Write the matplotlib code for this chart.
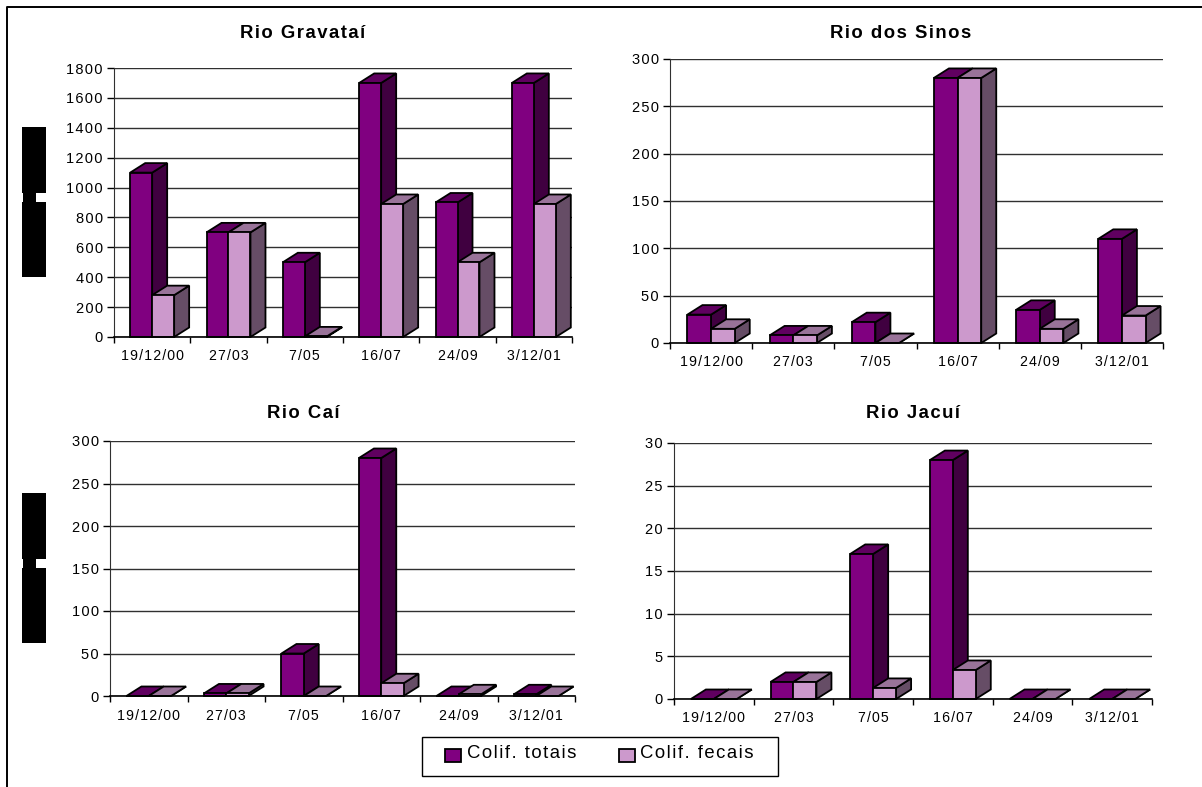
#Coliform counts for four rivers, drawn as Excel style 3D columns on plain 2D axes.
#Every column gets a front face from ax.bar, plus a side and a top polygon pushed back by a fixed pixel depth.

import matplotlib
matplotlib.use("Agg")
import matplotlib.pyplot as plt
from matplotlib.patches import Rectangle

FIG_W = 1202
FIG_H = 787
DEPTH_X = 15  # how far the column goes back, in pixels
DEPTH_Y = 9.5
BAR_WIDTH = 0.288
HAIR = '\u200a'

plt.rcParams['font.family'] = ['Liberation Sans', 'DejaVu Sans']

dates = ['19/12/00', '27/03', '7/05', '16/07', '24/09', '3/12/01']

gravatai_totais = [1100, 700, 500, 1700, 900, 1700]
gravatai_fecais = [280, 700, 4, 890, 500, 890]
gravatai_ticks = [0, 200, 400, 600, 800, 1000, 1200, 1400, 1600, 1800]

sinos_totais = [30, 8, 22, 280, 35, 110]
sinos_fecais = [15, 8, 0, 280, 15, 29]
sinos_ticks = [0, 50, 100, 150, 200, 250, 300]

cai_totais = [0, 3, 50, 280, 0, 2]
cai_fecais = [0, 3, 0, 15, 2, 0]
cai_ticks = [0, 50, 100, 150, 200, 250, 300]

jacui_totais = [0, 2, 17, 28, 0, 0]
jacui_fecais = [0, 2, 1.3, 3.4, 0, 0]
jacui_ticks = [0, 5, 10, 15, 20, 25, 30]

legend_labels = ['Colif. totais', 'Colif. fecais']

# front, top, side
COLORS_TOTAIS = ('#800080', '#600060', '#400040')
COLORS_FECAIS = ('#CC99CC', '#997399', '#664D66')


# matplotlib has no letter spacing, so put a narrow space between the characters
def spaced(text, gap=HAIR):
    return gap.join(text)


# draws one column, depth is converted from pixels to data units by the caller
def drawColumn(ax, x, height, colors, dx, dy):
    left = x - BAR_WIDTH / 2
    right = x + BAR_WIDTH / 2
    edge = dict(edgecolor='black', linewidth=1.3, joinstyle='miter', clip_on=False)
    ax.fill([right, right + dx, right + dx, right],
            [0, dy, height + dy, height], facecolor=colors[2], **edge)
    ax.fill([left, left + dx, right + dx, right],
            [height, height + dy, height + dy, height], facecolor=colors[1], **edge)
    ax.bar(x, height, BAR_WIDTH, facecolor=colors[0], **edge)


# one river panel, box is (left, top, right, bottom) in pixels
def drawPanel(fig, box, title, totais, fecais, ticks, titlePos):
    left, top, right, bottom = box
    ax = fig.add_axes([left / FIG_W, 1 - bottom / FIG_H,
                       (right - left) / FIG_W, (bottom - top) / FIG_H])
    ax.set_xlim(-0.5, 5.5)
    ax.set_ylim(ticks[0], ticks[-1])
    dx = DEPTH_X * 6 / (right - left)
    dy = DEPTH_Y * ticks[-1] / (bottom - top)

    for i in range(len(dates)):
        drawColumn(ax, i - BAR_WIDTH / 2, totais[i], COLORS_TOTAIS, dx, dy)
        drawColumn(ax, i + BAR_WIDTH / 2, fecais[i], COLORS_FECAIS, dx, dy)

    ax.set_axisbelow(True)
    ax.yaxis.grid(True, color='#303030', linewidth=1.0)
    ax.xaxis.grid(False)
    ax.spines['top'].set_visible(False)
    ax.spines['right'].set_visible(False)
    ax.spines['left'].set_color('#303030')
    ax.spines['bottom'].set_linewidth(1.2)
    ax.set_yticks(ticks, [spaced(str(t)) for t in ticks])
    ax.set_xticks([i - 0.5 for i in range(len(dates) + 1)])
    ax.set_xticklabels([])
    ax.set_xticks(range(len(dates)), [spaced(d) for d in dates], minor=True)
    ax.tick_params(axis='x', which='major', length=4.5, width=1.0)
    ax.tick_params(axis='x', which='minor', length=0, pad=9, labelsize=10.2)
    ax.tick_params(axis='y', length=5, width=1.0, pad=3, labelsize=10.5)
    fig.text(titlePos[0] / FIG_W, 1 - titlePos[1] / FIG_H, spaced(title),
             fontsize=13.3, fontweight='bold', ha='center', va='center')


fig = plt.figure(figsize=(FIG_W / 100, FIG_H / 100), dpi=100, facecolor='white')

drawPanel(fig, (114, 68, 572, 337), 'Rio Gravataí', gravatai_totais, gravatai_fecais, gravatai_ticks, (303, 34))
drawPanel(fig, (670, 59, 1163, 343), 'Rio dos Sinos', sinos_totais, sinos_fecais, sinos_ticks, (901, 34))
drawPanel(fig, (110, 441, 575, 696), 'Rio Caí', cai_totais, cai_fecais, cai_ticks, (303, 413))
drawPanel(fig, (674, 443, 1152, 699), 'Rio Jacuí', jacui_totais, jacui_fecais, jacui_ticks, (913, 413))

# page frame, only the top and left sides show
fig.add_artist(plt.Line2D([6.5 / FIG_W, 6.5 / FIG_W, 1], [0, 1 - 6.5 / FIG_H, 1 - 6.5 / FIG_H],
                          color='black', linewidth=1.4))

# solid black blocks beside the left hand panels
for top in (127, 493):
    for x, y, w, h in ((22, top, 24, 66), (23, top + 66, 13, 9), (22, top + 75, 24, 75)):
        fig.add_artist(Rectangle((x / FIG_W, 1 - (y + h) / FIG_H), w / FIG_W, h / FIG_H,
                                 transform=fig.transFigure, facecolor='black', edgecolor='none'))


# pixel rectangle on the figure, used for the key box and its swatches
def pixelBox(x, y, w, h, face, lw):
    fig.add_artist(Rectangle((x / FIG_W, 1 - (y + h) / FIG_H), w / FIG_W, h / FIG_H,
                             transform=fig.transFigure, facecolor=face,
                             edgecolor='black', linewidth=lw))


# the key is laid out by hand so the box size can be set exactly
pixelBox(422, 736.5, 356, 39.5, 'white', 1.0)
pixelBox(445, 749, 15.5, 13, COLORS_TOTAIS[0], 1.3)
pixelBox(619, 749, 15.5, 13, COLORS_FECAIS[0], 1.3)
fig.text(467 / FIG_W, 1 - 754 / FIG_H, spaced(legend_labels[0]), fontsize=13.3, va='center')
fig.text(640 / FIG_W, 1 - 754 / FIG_H, spaced(legend_labels[1]), fontsize=13.3, va='center')

fig.savefig('out.png', dpi=100)
